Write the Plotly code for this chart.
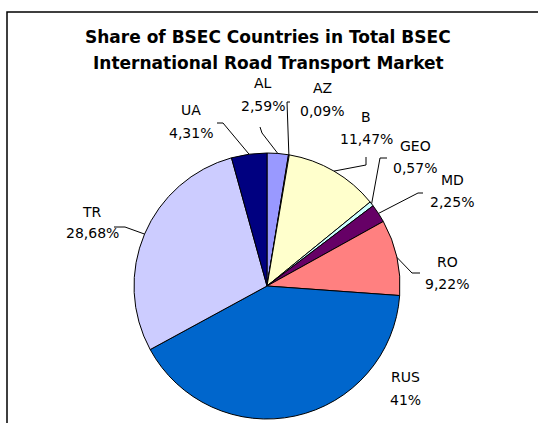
import math
import plotly.graph_objects as go

# ---- data ----
countries = ["AL", "AZ", "B", "GEO", "MD", "RO", "RUS", "TR", "UA"]
shares = [2.59, 0.09, 11.47, 0.57, 2.25, 9.22, 41, 28.68, 4.31]
share_text = ["2,59%", "0,09%", "11,47%", "0,57%", "2,25%", "9,22%", "41%", "28,68%", "4,31%"]
title_lines = ["Share of BSEC Countries in Total BSEC", "International Road Transport Market"]

# ---- style / layout ----
colors = ["#9999FF", "#993366", "#FFFFCC", "#CCFFFF", "#660066", "#FF8080", "#0066CC", "#CCCCFF", "#000080"]
W, H = 538, 423
CX, CY, R = 267, 286, 133          # pie centre / radius in pixels
FONT = "DejaVu Sans, Liberation Sans, Arial"

# label centre (x, y of name line, y of percent line) in pixels
label_xy = {
    "AL": (263, 83, 106), "AZ": (322, 88, 111), "B": (366, 117, 139),
    "GEO": (415, 146, 168), "MD": (452, 180, 202), "RO": (447, 262, 284),
    "RUS": (405, 377, 400), "TR": (92, 212, 233), "UA": (191, 110, 133),
}
# leader line: start point and knee point (pixels); end is on the slice edge
leader = {
    "AL": ((260, 127), (262, 133)), "AZ": ((290, 102), (287, 102)),
    "B": ((366, 157), (366, 165)), "GEO": ((387, 158), (380, 158)),
    "MD": ((423, 193), (418, 193)), "RO": ((420, 273), (412, 273)),
    "TR": ((114, 227), (125, 227)), "UA": ((217, 123), (223, 123)),
}

def px(x):
    return x / W

def py(y):
    return 1 - y / H

fig = go.Figure()
fig.add_trace(go.Pie(
    labels=countries, values=shares, sort=False, direction="clockwise", rotation=0,
    marker=dict(colors=colors, line=dict(color="black", width=1)),
    textinfo="none", showlegend=False, hoverinfo="label+percent",
    domain=dict(x=[px(CX - R), px(CX + R)], y=[py(CY + R), py(CY - R)]),
))

annotations = []
shapes = []
total = sum(shares)
cum = 0.0
for name, val, txt in zip(countries, shares, share_text):
    mid = (cum + val / 2) / total * 2 * math.pi
    cum += val
    ex, ey = CX + R * math.sin(mid), CY - R * math.cos(mid)
    lx, ly1, ly2 = label_xy[name]
    for t, yy in ((name, ly1), (txt, ly2)):
        annotations.append(dict(
            x=px(lx), y=py(yy), xref="paper", yref="paper", text=t, showarrow=False,
            xanchor="center", yanchor="middle", font=dict(family=FONT, size=14, color="black"),
        ))
    if name in leader:
        (sx, sy), (kx, ky) = leader[name]
        shapes.append(dict(
            type="path", xref="paper", yref="paper",
            path=f"M {px(sx)} {py(sy)} L {px(kx)} {py(ky)} L {px(ex)} {py(ey)}",
            line=dict(color="black", width=1),
        ))

for i, t in enumerate(title_lines):
    annotations.append(dict(
        x=px(268), y=py(37 + 26 * i), xref="paper", yref="paper", text=f"<b>{t}</b>",
        showarrow=False, xanchor="center", yanchor="middle",
        font=dict(family=FONT, size=17, color="black"),
    ))

# chart-area border (top and left edges visible)
shapes.append(dict(
    type="rect", xref="paper", yref="paper",
    x0=px(7), x1=px(W + 20), y0=py(H + 20), y1=py(12),
    line=dict(color="black", width=1.5), fillcolor="rgba(0,0,0,0)",
))

fig.update_layout(
    width=W, height=H, margin=dict(l=0, r=0, t=0, b=0),
    paper_bgcolor="white", plot_bgcolor="white",
    annotations=annotations, shapes=shapes,
)
fig.write_html(
    "out.html",
    config={"displayModeBar": False},
    post_script="document.body.style.margin='0';document.body.style.overflow='hidden';",
)
